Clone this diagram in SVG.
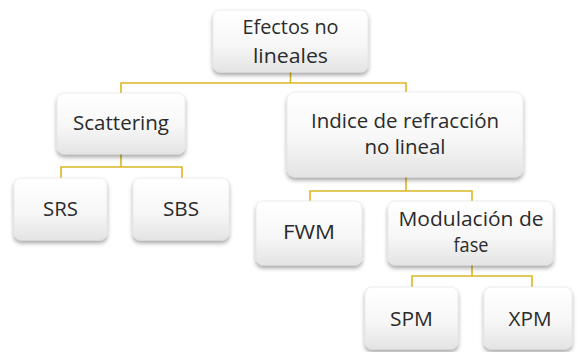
<svg xmlns="http://www.w3.org/2000/svg" width="577" height="352" viewBox="0 0 577 352">
<defs>
<linearGradient id="g" x1="0" y1="0" x2="0" y2="1">
<stop offset="0" stop-color="#ffffff"/>
<stop offset="0.55" stop-color="#f7f7f7"/>
<stop offset="1" stop-color="#e4e4e4"/>
</linearGradient>
<filter id="sh" x="-10%" y="-10%" width="125%" height="135%">
<feDropShadow dx="0" dy="3" stdDeviation="2" flood-color="#000" flood-opacity="0.35"/>
</filter>
</defs>
<style>
.box{fill:url(#g);stroke:#e0e0e0;stroke-width:0.6;filter:url(#sh)}
.t{font-family:"Open Sans","Noto Sans","Liberation Sans",sans-serif;font-size:20px;fill:#2b2b2b;text-anchor:middle}
.c{fill:none;stroke:#d9b824;stroke-width:1.6}
</style>
<rect width="577" height="352" fill="#ffffff"/>
<g id="connectors">
<path class="c" d="M290.5 72 V83 M121 93 V83 H406 V92"/>
<path class="c" d="M121 154 V167 M61 178 V167 H182 V178"/>
<path class="c" d="M406 177 V191 M310 201 V191 H472 V201"/>
<path class="c" d="M472 265 V276 M412 287 V276 H532 V287"/>
</g>
<g id="n-efectos">
<rect class="box" x="213" y="10" width="155" height="62" rx="7"/>
<text class="t" x="290.5" y="34" textLength="96" lengthAdjust="spacingAndGlyphs">Efectos no</text>
<text class="t" x="290.5" y="63" textLength="75" lengthAdjust="spacingAndGlyphs">lineales</text>
</g>
<g id="n-scattering">
<rect class="box" x="57" y="93" width="128" height="61" rx="7"/>
<text class="t" x="121" y="130" textLength="96" lengthAdjust="spacingAndGlyphs">Scattering</text>
</g>
<g id="n-indice">
<rect class="box" x="287" y="92" width="236" height="85" rx="8"/>
<text class="t" x="405" y="128" textLength="188" lengthAdjust="spacingAndGlyphs">Indice de refracción</text>
<text class="t" x="405" y="154" textLength="81" lengthAdjust="spacingAndGlyphs">no lineal</text>
</g>
<g id="n-srs">
<rect class="box" x="14" y="178" width="93" height="62" rx="7"/>
<text class="t" x="60.5" y="216" textLength="35" lengthAdjust="spacingAndGlyphs">SRS</text>
</g>
<g id="n-sbs">
<rect class="box" x="133" y="178" width="96" height="62" rx="7"/>
<text class="t" x="181" y="216" textLength="36" lengthAdjust="spacingAndGlyphs">SBS</text>
</g>
<g id="n-fwm">
<rect class="box" x="256" y="201" width="106" height="64" rx="7"/>
<text class="t" x="309" y="239" textLength="52" lengthAdjust="spacingAndGlyphs">FWM</text>
</g>
<g id="n-modulacion">
<rect class="box" x="388" y="201" width="165" height="64" rx="7"/>
<text class="t" x="471" y="226" textLength="145" lengthAdjust="spacingAndGlyphs">Modulación de</text>
<text class="t" x="471" y="252" textLength="35" lengthAdjust="spacingAndGlyphs">fase</text>
</g>
<g id="n-spm">
<rect class="box" x="365" y="287" width="93" height="62" rx="7"/>
<text class="t" x="411.5" y="326" textLength="43" lengthAdjust="spacingAndGlyphs">SPM</text>
</g>
<g id="n-xpm">
<rect class="box" x="484" y="287" width="88" height="62" rx="7"/>
<text class="t" x="530" y="326" textLength="43" lengthAdjust="spacingAndGlyphs">XPM</text>
</g>
</svg>
